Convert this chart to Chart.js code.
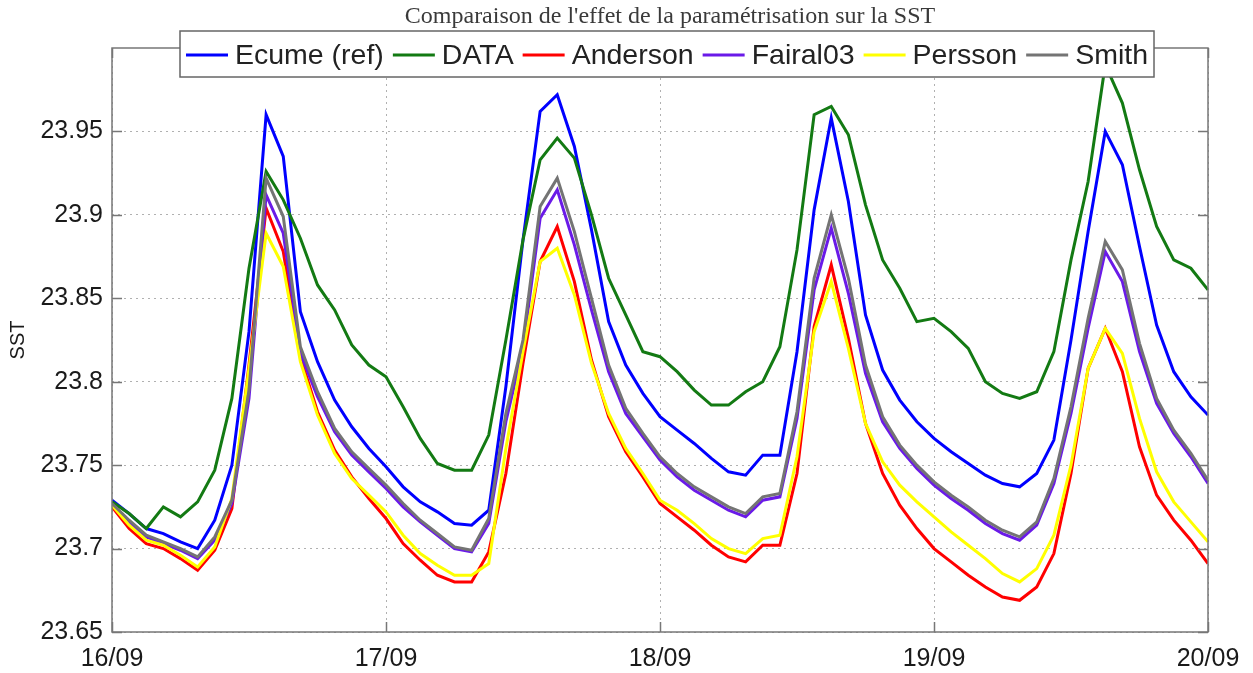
<!DOCTYPE html>
<html>
<head>
<meta charset="utf-8">
<script src="https://cdn.jsdelivr.net/npm/chart.js@4.4.1/dist/chart.umd.min.js"></script>
<style>
  html, body { margin: 0; padding: 0; background: #fff; }
</style>
</head>
<body>
<canvas id="chart" width="1253" height="673"></canvas>
<script>
// Time axis in hours since 16/09 00:00 (one sample every 1.5 h)
const hours = [0, 1.5, 3, 4.5, 6, 7.5, 9, 10.5, 12, 13.5, 15, 16.5, 18, 19.5, 21, 22.5,
  24, 25.5, 27, 28.5, 30, 31.5, 33, 34.5, 36, 37.5, 39, 40.5, 42, 43.5, 45, 46.5,
  48, 49.5, 51, 52.5, 54, 55.5, 57, 58.5, 60, 61.5, 63, 64.5, 66, 67.5, 69, 70.5,
  72, 73.5, 75, 76.5, 78, 79.5, 81, 82.5, 84, 85.5, 87, 88.5, 90, 91.5, 93, 94.5, 96];

const ecume = [23.729, 23.721, 23.712, 23.709, 23.704, 23.700, 23.717, 23.750, 23.830, 23.960, 23.935, 23.842, 23.812, 23.789, 23.773, 23.760,
  23.749, 23.737, 23.728, 23.722, 23.715, 23.714, 23.723, 23.797, 23.885, 23.962, 23.972, 23.941, 23.891, 23.836, 23.810, 23.793,
  23.779, 23.771, 23.763, 23.754, 23.746, 23.744, 23.756, 23.756, 23.818, 23.903, 23.958, 23.908, 23.840, 23.807, 23.789, 23.776,
  23.766, 23.758, 23.751, 23.744, 23.739, 23.737, 23.745, 23.765, 23.825, 23.890, 23.950, 23.930, 23.881, 23.834, 23.806, 23.791, 23.780];

const dataObs = [23.728, 23.721, 23.712, 23.725, 23.719, 23.728, 23.747, 23.790, 23.868, 23.926, 23.909, 23.886, 23.858, 23.843, 23.822, 23.810,
  23.803, 23.785, 23.766, 23.751, 23.747, 23.747, 23.768, 23.825, 23.885, 23.933, 23.946, 23.934, 23.900, 23.862, 23.840, 23.818,
  23.815, 23.806, 23.795, 23.786, 23.786, 23.794, 23.800, 23.821, 23.879, 23.960, 23.965, 23.948, 23.906, 23.873, 23.856, 23.836,
  23.838, 23.830, 23.820, 23.800, 23.793, 23.790, 23.794, 23.818, 23.873, 23.920, 23.990, 23.967, 23.927, 23.893, 23.873, 23.868, 23.855];

const anderson = [23.725, 23.712, 23.703, 23.700, 23.694, 23.687, 23.699, 23.724, 23.810, 23.904, 23.878, 23.815, 23.782, 23.759, 23.743, 23.730,
  23.718, 23.703, 23.693, 23.684, 23.680, 23.680, 23.698, 23.745, 23.811, 23.872, 23.893, 23.860, 23.813, 23.779, 23.758, 23.743,
  23.727, 23.719, 23.711, 23.702, 23.695, 23.692, 23.702, 23.702, 23.745, 23.833, 23.870, 23.826, 23.775, 23.745, 23.726, 23.712,
  23.700, 23.692, 23.684, 23.677, 23.671, 23.669, 23.677, 23.697, 23.745, 23.808, 23.832, 23.806, 23.761, 23.732, 23.717, 23.705, 23.691];

const fairal03 = [23.726, 23.716, 23.707, 23.703, 23.699, 23.694, 23.705, 23.727, 23.790, 23.912, 23.889, 23.817, 23.791, 23.770, 23.756, 23.746,
  23.736, 23.725, 23.716, 23.708, 23.700, 23.698, 23.715, 23.776, 23.820, 23.898, 23.915, 23.882, 23.843, 23.806, 23.781, 23.767,
  23.753, 23.743, 23.735, 23.729, 23.723, 23.719, 23.729, 23.731, 23.778, 23.855, 23.892, 23.853, 23.805, 23.776, 23.760, 23.748,
  23.738, 23.730, 23.723, 23.715, 23.709, 23.705, 23.714, 23.739, 23.781, 23.832, 23.878, 23.860, 23.818, 23.787, 23.769, 23.755, 23.739];

const persson = [23.726, 23.714, 23.705, 23.702, 23.696, 23.689, 23.701, 23.730, 23.808, 23.889, 23.869, 23.812, 23.780, 23.757, 23.742, 23.732,
  23.722, 23.708, 23.697, 23.690, 23.684, 23.684, 23.691, 23.760, 23.818, 23.872, 23.880, 23.852, 23.811, 23.781, 23.760, 23.745,
  23.729, 23.723, 23.715, 23.706, 23.700, 23.697, 23.706, 23.708, 23.755, 23.830, 23.860, 23.820, 23.775, 23.752, 23.738, 23.728,
  23.719, 23.710, 23.702, 23.694, 23.685, 23.680, 23.688, 23.708, 23.750, 23.808, 23.832, 23.817, 23.778, 23.746, 23.728, 23.716, 23.704];

const smith = [23.727, 23.717, 23.708, 23.704, 23.700, 23.695, 23.707, 23.729, 23.795, 23.922, 23.899, 23.821, 23.794, 23.772, 23.758, 23.748,
  23.738, 23.727, 23.717, 23.709, 23.701, 23.699, 23.718, 23.781, 23.825, 23.905, 23.922, 23.890, 23.850, 23.810, 23.784, 23.769,
  23.755, 23.745, 23.737, 23.731, 23.725, 23.721, 23.731, 23.733, 23.782, 23.862, 23.900, 23.862, 23.810, 23.779, 23.762, 23.750,
  23.740, 23.732, 23.725, 23.717, 23.711, 23.707, 23.716, 23.742, 23.785, 23.838, 23.884, 23.867, 23.823, 23.790, 23.771, 23.757, 23.741];

const seriesNames = ["Ecume (ref)", "DATA", "Anderson", "Fairal03", "Persson", "Smith"];
const seriesValues = [ecume, dataObs, anderson, fairal03, persson, smith];
const seriesColors = ["#0000ff", "#137a13", "#ff0000", "#6a1ae8", "#ffff00", "#747474"];

const xTicks = [0, 24, 48, 72, 96];
const xTickLabels = ["16/09", "17/09", "18/09", "19/09", "20/09"];
const yTicks = [23.65, 23.7, 23.75, 23.8, 23.85, 23.9, 23.95];
const yTickLabels = ["23.65", "23.7", "23.75", "23.8", "23.85", "23.9", "23.95"];

const titleText = "Comparaison de l'effet de la paramétrisation sur la SST";
const sans = "'Liberation Sans', Arial, sans-serif";

// Box, inward ticks (MATLAB style), title and legend drawn over the plot
const framePlugin = {
  id: "frame",
  afterDatasetsDraw(chart) {
    const { ctx, chartArea: a, scales } = chart;
    ctx.save();
    ctx.strokeStyle = "#777";
    ctx.lineWidth = 1.5;
    ctx.beginPath();
    yTicks.forEach((v) => {
      const y = Math.round(scales.y.getPixelForValue(v)) + 0.5;
      ctx.moveTo(a.left, y); ctx.lineTo(a.left + 10, y);
      ctx.moveTo(a.right, y); ctx.lineTo(a.right - 10, y);
    });
    xTicks.forEach((v) => {
      const x = Math.round(scales.x.getPixelForValue(v)) + 0.5;
      ctx.moveTo(x, a.bottom); ctx.lineTo(x, a.bottom - 10);
      ctx.moveTo(x, a.top); ctx.lineTo(x, a.top + 10);
    });
    ctx.stroke();
    ctx.strokeRect(a.left, a.top, a.right - a.left, a.bottom - a.top);

    // title
    ctx.font = "24px 'Liberation Serif', 'Times New Roman', serif";
    ctx.fillStyle = "#3a3a3a";
    ctx.textAlign = "center";
    ctx.textBaseline = "middle";
    ctx.fillText(titleText, 670, 17);

    // legend
    ctx.font = "28.5px " + sans;
    const lineLen = 42, gap = 7, itemGap = 9;
    const widths = seriesNames.map((n) => ctx.measureText(n).width);
    const total = widths.reduce((s, w) => s + lineLen + gap + w, 0) + itemGap * (widths.length - 1) + 12;
    const bx = a.left + 68, by = 31, bh = 46;
    ctx.fillStyle = "#fff";
    ctx.fillRect(bx, by, total, bh);
    ctx.strokeStyle = "#666";
    ctx.strokeRect(bx, by, total, bh);
    let x = bx + 6;
    const cy = by + bh / 2 + 1;
    seriesNames.forEach((name, i) => {
      ctx.strokeStyle = seriesColors[i];
      ctx.lineWidth = 3;
      ctx.beginPath();
      ctx.moveTo(x, cy); ctx.lineTo(x + lineLen, cy);
      ctx.stroke();
      ctx.fillStyle = "#222";
      ctx.textAlign = "left";
      ctx.fillText(name, x + lineLen + gap, cy + 1);
      x += lineLen + gap + widths[i] + itemGap;
    });
    ctx.restore();
  }
};

const ctx = document.getElementById("chart").getContext("2d");

new Chart(ctx, {
  type: "line",
  data: {
    labels: hours,
    datasets: seriesNames.map((name, i) => ({
      label: name,
      data: hours.map((h, j) => ({ x: h, y: seriesValues[i][j] })),
      borderColor: seriesColors[i],
      borderWidth: 3,
      pointRadius: 0,
      tension: 0,
      fill: false,
      order: seriesNames.length - i, // later series drawn on top, like MATLAB
    })),
  },
  options: {
    responsive: false,
    animation: false,
    layout: { padding: { top: 48, right: 45, left: 0, bottom: 0 } },
    plugins: {
      legend: { display: false },
      title: { display: false },
      tooltip: { enabled: false },
    },
    scales: {
      x: {
        type: "linear",
        min: 0,
        max: 96,
        afterBuildTicks: (s) => { s.ticks = xTicks.map((v) => ({ value: v })); },
        afterFit: (s) => { s.height = 41; },
        ticks: {
          callback: (v) => xTickLabels[xTicks.indexOf(v)],
          font: { family: sans, size: 25 },
          color: "#1a1a1a",
          padding: 12,
          maxRotation: 0,
          autoSkip: false,
        },
        grid: { color: "#b0b0b0", lineWidth: 1, drawTicks: false },
        border: { display: false, dash: [2, 4] },
      },
      y: {
        min: 23.65,
        max: 24.0,
        afterBuildTicks: (s) => { s.ticks = yTicks.map((v) => ({ value: v })); },
        afterFit: (s) => { s.width = 112; },
        ticks: {
          callback: (v) => yTickLabels[yTicks.findIndex((t) => Math.abs(t - v) < 1e-6)],
          font: { family: sans, size: 25 },
          color: "#1a1a1a",
          padding: 9,
        },
        title: {
          display: true,
          text: "SST",
          font: { family: sans, size: 20 },
          color: "#1a1a1a",
          padding: { top: 6, bottom: 0 },
        },
        grid: { color: "#b0b0b0", lineWidth: 1, drawTicks: false },
        border: { display: false, dash: [2, 4] },
      },
    },
  },
  plugins: [framePlugin],
});
</script>
</body>
</html>
